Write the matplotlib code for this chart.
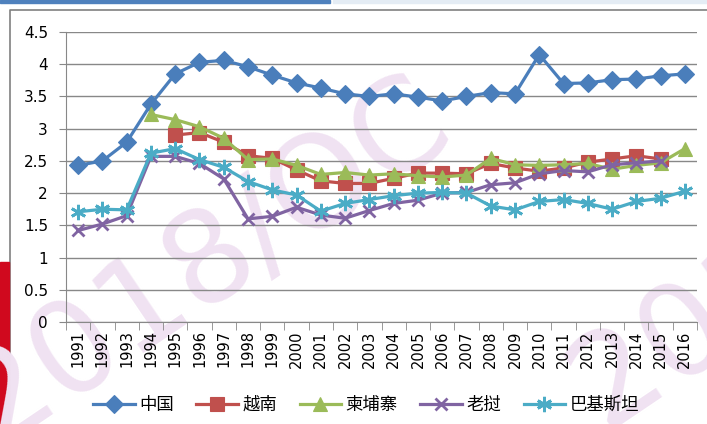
#!/usr/bin/env python3
"""Index by country, 1991-2016"""
import numpy as np
import matplotlib
matplotlib.use('Agg')
import matplotlib.pyplot as plt
from matplotlib.patches import Rectangle

plt.rcParams['font.family'] = ['Noto Sans CJK SC', 'DejaVu Sans']

years = [str(y) for y in range(1991, 2017)]

china = [2.43, 2.50, 2.79, 3.38, 3.85, 4.03, 4.06, 3.96, 3.83, 3.71, 3.63, 3.54, 3.50,
         3.54, 3.49, 3.43, 3.50, 3.56, 3.54, 4.15, 3.70, 3.71, 3.76, 3.77, 3.82, 3.85]
vietnam = [None, None, None, None, 2.90, 2.94, 2.79, 2.58, 2.54, 2.36, 2.19, 2.15, 2.15,
           2.23, 2.31, 2.31, 2.30, 2.46, 2.39, 2.34, 2.39, 2.48, 2.53, 2.58, 2.53, None]
cambodia = [None, None, None, 3.22, 3.14, 3.03, 2.85, 2.52, 2.53, 2.43, 2.29, 2.32, 2.28,
            2.30, 2.27, 2.25, 2.28, 2.54, 2.44, 2.43, 2.44, 2.46, 2.37, 2.43, 2.47, 2.69]
laos = [1.42, 1.52, 1.65, 2.57, 2.57, 2.46, 2.22, 1.60, 1.64, 1.78, 1.66, 1.61, 1.73,
        1.84, 1.89, 2.00, 2.01, 2.13, 2.16, 2.30, 2.35, 2.33, 2.44, 2.47, 2.50, None]
pakistan = [1.71, 1.75, 1.74, 2.62, 2.69, 2.52, 2.40, 2.18, 2.05, 1.97, 1.72, 1.84, 1.90,
            1.96, 2.00, 2.01, 2.00, 1.80, 1.74, 1.87, 1.90, 1.84, 1.75, 1.87, 1.92, 2.03]

series = [
    ('中国', china, '#4A7EBB', 'D', 9),
    ('越南', vietnam, '#C0504D', 's', 9.5),
    ('柬埔寨', cambodia, '#9BBB59', '^', 10),
    ('老挝', laos, '#8064A2', 'x', 9),
    ('巴基斯坦', pakistan, '#4BACC6', (6, 2, 0), 11),
]

fig = plt.figure(figsize=(7.07, 4.24), dpi=100)

# page decorations: top bars, left red bar, frame
fig.patches.append(Rectangle((0, 1 - 3 / 424), 330 / 707, 3 / 424, transform=fig.transFigure,
                             color='#4F81BD', zorder=-2))
fig.patches.append(Rectangle((333 / 707, 1 - 3 / 424), 1, 3 / 424, transform=fig.transFigure,
                             color='#E4ECF4', zorder=-2))
fig.patches.append(Rectangle((0, 0), 9 / 707, 162 / 424, transform=fig.transFigure,
                             color='#D0091E', zorder=-2))
fig.lines.append(plt.Line2D([10 / 707, 10 / 707, 1], [0, 1 - 10 / 424, 1 - 10 / 424],
                            transform=fig.transFigure, color='#808080', lw=1.2, zorder=-2))

# watermark (behind the chart)
wm = dict(fontsize=92, rotation=34, color='#F0E2F2', family='DejaVu Sans',
          ha='center', va='center', rotation_mode='anchor', zorder=-1)
fig.text(206 / 707, 1 - 262 / 424, '2018/OC', **wm)
fig.text(815 / 707, 1 - 245 / 424, '2018/OC', **wm)

ax = fig.add_axes([66 / 707, 1 - 322 / 424, 631 / 707, 290 / 424])
ax.patch.set_alpha(0)
x = np.arange(len(years))
for name, vals, color, marker, ms in series:
    v = np.array([np.nan if a is None else a for a in vals], dtype=float)
    thin = marker == 'x' or isinstance(marker, tuple)
    ax.plot(x, v, color=color, lw=2.3, marker=marker, markersize=ms,
            markeredgewidth=2 if thin else 0.8, markeredgecolor=color, label=name)

ax.set_xlim(-0.5, len(years) - 0.5)
ax.set_ylim(0, 4.5)
ax.set_yticks(np.arange(0, 4.51, 0.5))
ax.set_yticklabels(['0', '0.5', '1', '1.5', '2', '2.5', '3', '3.5', '4', '4.5'],
                   family='DejaVu Sans', fontsize=11)
ax.set_xticks(x)
ax.set_xticklabels(years, rotation=90, family='DejaVu Sans', fontsize=10.5)
ax.set_xticks(np.arange(-0.5, len(years), 1), minor=True)
ax.tick_params(axis='x', which='major', length=0, pad=6)
ax.tick_params(axis='x', which='minor', length=6, color='#888888')
ax.tick_params(axis='y', length=5, color='#888888', pad=8)
ax.grid(True, axis='y', color='#888888', lw=1)
ax.set_axisbelow(True)
for s in ['top', 'right']:
    ax.spines[s].set_visible(False)
for s in ['left', 'bottom']:
    ax.spines[s].set_color('#888888')

fig.legend(loc='center', bbox_to_anchor=(366 / 707, 1 - 405 / 424), ncol=5, frameon=False,
           fontsize=12.5, handlelength=2.4, columnspacing=1.3, handletextpad=0.25)

fig.savefig('out.png', dpi=100)
